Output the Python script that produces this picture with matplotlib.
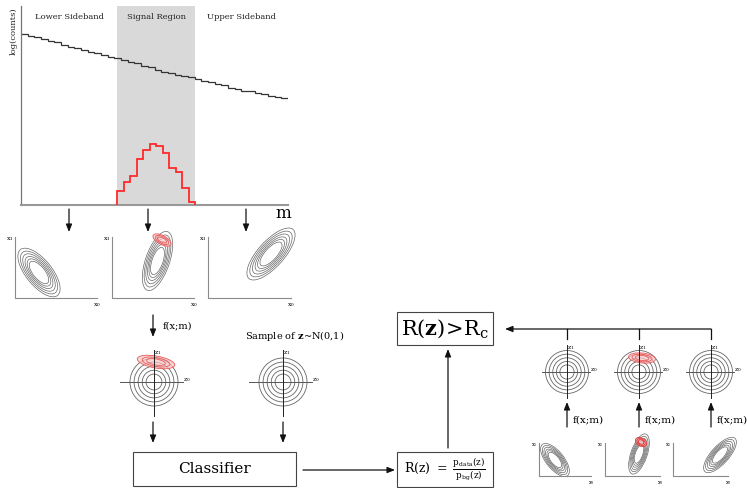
"""CWoLa-style anomaly detection flow diagram: sidebands, flows, classifier."""
import matplotlib

matplotlib.use("Agg")
import matplotlib.pyplot as plt
import numpy as np
from matplotlib.patches import Circle, Ellipse, Rectangle
from matplotlib.transforms import blended_transform_factory

plt.rcParams["font.family"] = ["DejaVu Serif"]
plt.rcParams["mathtext.fontset"] = "dejavuserif"

W, H = 748, 488

# ── data ────────────────────────────────────────────────────────────────────
bg_counts = [85.9, 84.9, 84.2, 83.2, 82.2, 81.7, 80.4, 79.6, 78.9, 77.9,
             76.9, 76.4, 75.4, 74.6, 73.9, 72.9, 72.1, 71.4, 69.8, 69.3,
             67.6, 66.8, 66.1, 65.3, 64.8, 64.1, 63.3, 62.1, 61.6, 60.8,
             60.1, 58.8, 58.3, 57.5, 57.3, 56.3, 55.8, 55.0, 54.3, 54.0]
sig_counts = [7.2, 11.7, 14.7, 23.1, 27.6, 30.5, 29.8, 25.9, 18.4, 16.7, 8.7, 1.7]
sr_lo, sr_hi = 14.4, 26.1
region_labels = ["Lower Sideband", "Signal Region", "Upper Sideband"]

contour_scales = [1.0, 0.88, 0.77, 0.66, 0.56, 0.46]
red_scales = [1.0, 0.74, 0.5]
circle_radii = [1.0, 0.83, 0.66, 0.49, 0.33]
# outer contour (semi-major, semi-minor, angle deg): lower SB, SR, upper SB
shapes = [(29.5, 13, -51), (31, 12, 71), (33, 13, 48)]

GRAY = "#666666"
RED = "#e85a5a"

fig = plt.figure(figsize=(W / 100, H / 100), dpi=100)

# ── mass spectrum ───────────────────────────────────────────────────────────
hx = fig.add_axes([21 / W, 1 - 205 / H, 267 / W, 199 / H])
hx.patch.set_alpha(0)
hx.set_xlim(0, len(bg_counts)); hx.set_ylim(0, 100)
hx.axvspan(sr_lo, sr_hi, color="#d9d9d9", lw=0)
hx.stairs(bg_counts, np.arange(len(bg_counts) + 1), baseline=None, color="#333333", lw=0.9)
hx.stairs(sig_counts, np.linspace(sr_lo, sr_hi, len(sig_counts) + 1), baseline=0,
          color="#ff2a2a", lw=1.3, zorder=5)
hx.set_xticks([]); hx.set_yticks([])
hx.spines[["top", "right"]].set_visible(False)
hx.spines["left"].set_color("#777777"); hx.spines["left"].set_linewidth(0.9)
hx.spines["bottom"].set_color("#999999"); hx.spines["bottom"].set_linewidth(1.5)
tr = blended_transform_factory(hx.transData, hx.transAxes)
mids = [sr_lo / 2, (sr_lo + sr_hi) / 2, (sr_hi + len(bg_counts)) / 2]
for xm, lab in zip(mids, region_labels):
    hx.text(xm, 0.945, lab, transform=tr, ha="center", va="center", fontsize=6, color="#222")

# ── canvas for the diagram ──────────────────────────────────────────────────
cv = fig.add_axes([0, 0, 1, 1])
cv.set_xlim(0, W); cv.set_ylim(H, 0); cv.axis("off")

cv.text(14, 7, "log(counts)", rotation=90, ha="center", va="top", fontsize=6, color="#222")
cv.text(283, 214, "m", ha="center", va="center", fontsize=12)


def arrow(x0, y0, x1, y1):
    cv.annotate("", xy=(x1, y1), xytext=(x0, y0),
                arrowprops=dict(arrowstyle="-|>,head_length=0.45,head_width=0.18",
                                color="#111111", lw=0.9, shrinkA=0, shrinkB=0,
                                mutation_scale=10))


def contours(cx, cy, a, b, ang, s, scales, ec, lw=0.5, fc="none"):
    for k in scales:
        cv.add_patch(Ellipse((cx, cy), 2 * a * s * k, 2 * b * s * k, angle=-ang,
                             ec=ec, fc=fc, lw=lw))


def x_panel(corner, top, right, centre, shape, s=1.0, red=None, fs=4.5):
    x0, y0 = corner
    cv.plot([x0, x0, right], [top, y0, y0], color="#8a8a8a", lw=0.8)
    cv.text(x0 - 5, top + 2, r"$\mathrm{x_1}$", fontsize=fs, ha="center", va="center")
    cv.text(right, y0 + 7, r"$\mathrm{x_0}$", fontsize=fs, ha="center", va="center")
    a, b, ang = shape
    contours(centre[0], centre[1], a, b, ang, s, contour_scales, GRAY)
    if red is not None:
        (rx, ry), (ra, rb, rang), col = red
        cv.add_patch(Ellipse((rx, ry), 2 * ra, 2 * rb, angle=-rang, ec="none",
                             fc="#f8c4c4", alpha=0.7))
        contours(rx, ry, ra, rb, rang, 1.0, red_scales, col, lw=0.6)


def z_panel(cx, cy, r, hspan, vspan, red=None, fs=4.5):
    for k in circle_radii:
        cv.add_patch(Circle((cx, cy), r * k, ec=GRAY, fc="none", lw=0.6))
    cv.plot([cx + hspan[0], cx + hspan[1]], [cy, cy], color="#555555", lw=0.7)
    cv.plot([cx, cx], [cy + vspan[0], cy + vspan[1]], color="#222222", lw=0.7)
    cv.text(cx + 4, cy + vspan[0] + 3, r"$\mathrm{z_1}$", fontsize=fs, ha="center", va="center")
    cv.text(cx + hspan[1] + 4, cy - 2, r"$\mathrm{z_0}$", fontsize=fs, ha="center", va="center")
    if red is not None:
        (rx, ry), (ra, rb, rang) = red
        cv.add_patch(Ellipse((rx, ry), 2 * ra, 2 * rb, angle=-rang, ec="none",
                             fc="#f8c4c4", alpha=0.7))
        contours(rx, ry, ra, rb, rang, 1.0, red_scales, RED, lw=0.6)


# sideband / signal-region feature spaces
arrow(69, 209, 69, 232); arrow(148, 209, 148, 232); arrow(246, 209, 246, 232)
x_panel((15, 298), 237, 97, (39, 272.5), shapes[0])
x_panel((112, 298), 237, 194, (157.5, 261), shapes[1],
        red=((162, 240), (10, 4.5, -28), RED))
x_panel((208, 298), 237, 291, (271, 254), shapes[2])

# flow to latent space
arrow(153, 315, 153, 337)
cv.text(163, 326, "f(x;m)", fontsize=7, ha="left", va="center")
cv.text(295, 336, r"Sample of $\mathbf{z}$~N(0,1)", fontsize=7, ha="center", va="center")
z_panel(154, 382, 24, (-34, 29), (-32, 34), red=((156, 362), (19, 6, -10)))
z_panel(283, 382, 24, (-34, 29), (-32, 34))
arrow(153, 422, 153, 443); arrow(283, 422, 283, 443)

# classifier and likelihood ratio
cv.add_patch(Rectangle((133, 452), 163, 34, ec="#444444", fc="none", lw=0.8))
cv.text(214.5, 469, "Classifier", fontsize=11, ha="center", va="center")
arrow(303, 470, 395, 470)
cv.add_patch(Rectangle((397, 452), 96, 35, ec="#444444", fc="none", lw=0.8))
cv.text(445, 469.5, r"$\mathrm{R(z)\ =\ \frac{p_{data}(z)}{p_{bg}(z)}}$",
        fontsize=9, ha="center", va="center")
arrow(448, 448, 448, 349)
cv.add_patch(Rectangle((397, 312), 96, 33, ec="#444444", fc="none", lw=0.8))
cv.text(445, 328.5, r"$\mathrm{R(}\mathbf{z}\mathrm{)\!>\!R_c}$",
        fontsize=15, ha="center", va="center")

# right-hand column: evaluate flows on each region
arrow(711, 329, 505, 329)
for xc in (567, 639, 711):
    cv.plot([xc, xc], [329, 339], color="#111111", lw=0.9)
z_panel(567, 372, 21.5, (-25, 23), (-27, 26))
z_panel(639, 372, 21.5, (-25, 23), (-27, 26), red=((642, 358), (13.5, 5, -6)))
z_panel(711, 372, 21.5, (-25, 23), (-27, 26))
for xc in (567, 639, 711):
    arrow(xc, 427, xc, 402)
    cv.text(xc + 6, 420, "f(x;m)", fontsize=7.5, ha="left", va="center")

x_panel((539, 476), 443, 591, (555, 460), shapes[0], s=0.68, fs=3.5)
x_panel((605, 476), 443, 660, (639, 454), shapes[1], s=0.68, fs=3.5,
        red=((641, 442), (6, 4, -30), "#e03030"))
x_panel((673, 476), 443, 728, (720, 455), shapes[2], s=0.68, fs=3.5)

fig.savefig("out.png", dpi=100)
print("saved: out.png")
